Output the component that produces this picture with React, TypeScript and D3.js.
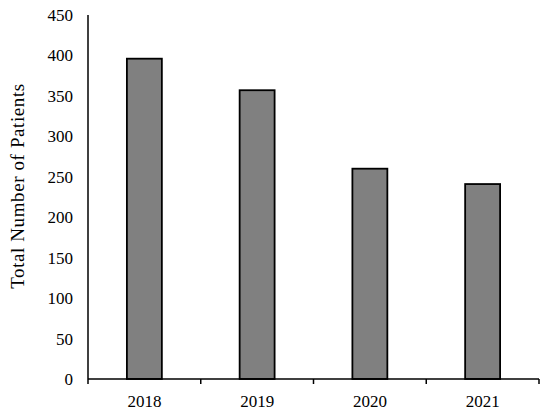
import React from "react";
import * as d3 from "d3";

const years = ["2018", "2019", "2020", "2021"];
const patients = [396, 357, 260, 241];
const yTicks = [0, 50, 100, 150, 200, 250, 300, 350, 400, 450];

export default function App() {
  const W = 550, H = 420;
  const left = 88, right = 539, top = 15, bottom = 379;
  const x = d3.scaleBand<string>().domain(years).range([left, right]).paddingInner(0).paddingOuter(0);
  const y = d3.scaleLinear().domain([0, 450]).range([bottom, top]);
  const bw = x.bandwidth() * 0.31;
  const font = "'Liberation Serif', 'Times New Roman', serif";
  const boundaries = [...years.map((c) => x(c)!), right];
  return (
    <svg width={W} height={H} style={{ position: "absolute", left: 0, top: 0 }}>
      <rect width={W} height={H} fill="#fff" />
      {years.map((c, i) => (
        <rect
          key={c}
          x={x(c)! + x.bandwidth() / 2 - bw / 2}
          y={y(patients[i])}
          width={bw}
          height={bottom - y(patients[i])}
          fill="#808080"
          stroke="#000"
          strokeWidth={1.8}
        />
      ))}
      <line x1={left} x2={left} y1={top} y2={bottom} stroke="#000" strokeWidth={1.5} />
      <line x1={left} x2={right} y1={bottom} y2={bottom} stroke="#000" strokeWidth={1.5} />
      {boundaries.map((b, i) => (
        <line key={i} x1={b} x2={b} y1={bottom} y2={bottom + 5} stroke="#000" strokeWidth={1.5} />
      ))}
      {yTicks.map((t) => (
        <text key={t} x={73} y={y(t)} dy="0.35em" textAnchor="end" fontFamily={font} fontSize={17} fill="#000">
          {t}
        </text>
      ))}
      {years.map((c) => (
        <text key={c} x={x(c)! + x.bandwidth() / 2} y={401} dy="0.35em" textAnchor="middle" fontFamily={font} fontSize={17} fill="#000">
          {c}
        </text>
      ))}
      <text
        transform={`translate(17, 186) rotate(-90)`}
        textAnchor="middle"
        dy="0.35em"
        fontFamily={font}
        fontSize={19}
        letterSpacing={0.6}
        fill="#000"
      >
        Total Number of Patients
      </text>
    </svg>
  );
}
